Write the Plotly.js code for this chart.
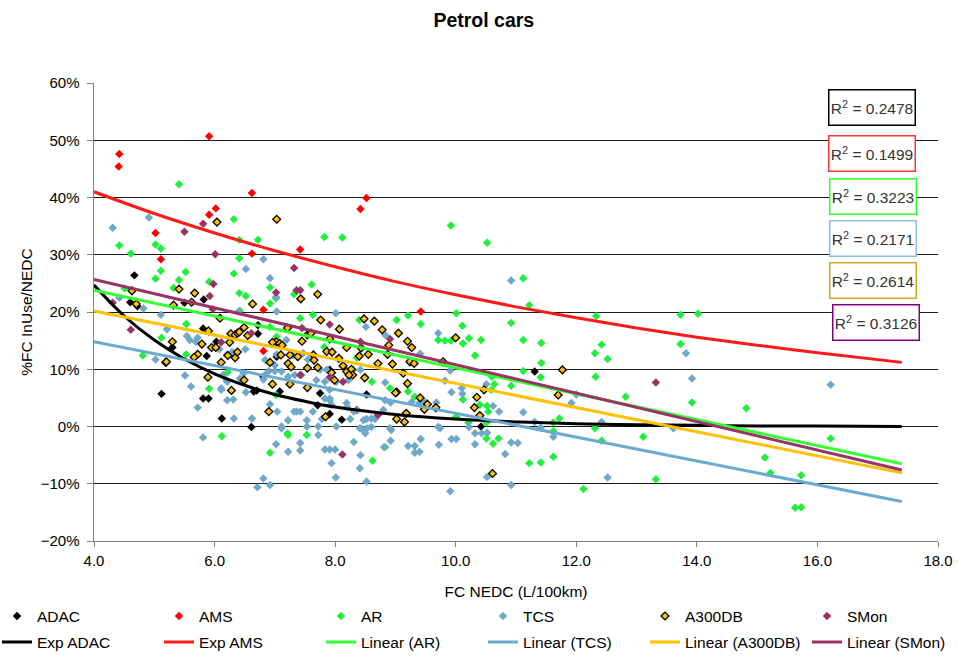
<!DOCTYPE html>
<html>
<head>
<meta charset="utf-8">
<script src="https://cdn.plot.ly/plotly-3.0.1.min.js"></script>
<style>html,body{margin:0;padding:0;background:#fff;}#chart{width:958px;height:659px;}</style>
</head>
<body>
<div id="chart"></div>
<script>
// ---------- data (FC NEDC in L/100km, %FC InUse/NEDC in %) ----------
var adacX = [4.67,4.60,4.72,5.50,5.82,5.81,5.87,6.03,6.72,6.72,5.12,5.81,5.90,6.12,6.61,6.65,6.70,6.81,7.03,5.30,7.08,7.75,7.91,8.11,7.71,8.36,7.91,8.52,10.42,11.31];
var adacY = [26.4,21.7,21.0,21.6,22.2,17.1,12.3,14.8,17.7,16.2,5.7,4.9,4.9,1.4,-0.1,6.1,6.3,8.7,12.2,13.8,6.1,5.8,2.2,1.2,3.7,2.9,9.9,5.6,0.0,9.6];

var amsX = [4.41,4.42,5.91,6.62,6.02,5.91,5.02,5.11,6.62,7.42,6.81,8.52,8.42,6.81,9.42];
var amsY = [45.4,47.6,50.7,40.8,38.1,37.0,33.8,29.2,30.2,30.9,20.4,39.9,38.0,13.2,20.1];

var arX = [5.41,6.32,4.42,4.61,5.02,5.11,5.02,5.11,5.41,5.52,5.32,5.91,6.41,6.72,6.41,6.32,6.41,6.52,6.92,6.92,7.02,7.32,7.61,7.82,8.12,9.92,4.51,7.42,7.63,6.42,
  10.52,11.12,11.22,10.01,10.92,10.11,9.42,9.21,9.02,
  12.33,10.22,10.42,10.12,11.12,11.42,12.42,12.31,12.52,10.32,11.42,11.12,12.32,11.41,10.92,10.60,10.64,10.59,10.12,10.40,10.52,10.54,10.21,10.51,12.82,11.62,11.62,11.72,12.31,12.42,10.51,10.62,10.71,11.62,11.41,11.22,12.12,13.11,
  13.73,14.02,13.73,13.92,14.82,16.22,15.13,15.22,15.73,13.32,15.63,15.73,
  9.71,9.82,9.92,10.01,9.32,8.83,8.62,8.61,8.40,7.82,8.36,8.30,8.91,9.21,7.21,
  5.53,5.12,4.81,5.53,6.22,5.91,7.03,6.12,6.92,7.22,7.53,7.02,6.92];
var arY = [42.3,36.2,31.6,30.2,31.8,31.1,25.8,27.2,25.6,27.0,24.2,25.3,32.6,32.6,29.4,26.7,23.3,22.8,24.3,21.5,22.4,23.1,24.8,33.1,33.0,35.1,24.1,18.9,19.5,20.2,
  32.1,25.9,21.2,19.8,18.1,17.6,17.9,19.4,18.6,
  19.3,15.4,15.1,14.5,15.1,14.6,14.3,12.8,11.8,12.4,11.1,9.7,8.7,8.6,7.1,8.7,7.4,6.4,4.7,3.8,3.6,2.6,0.7,0.7,5.2,0.7,-0.8,1.4,-0.3,-2.5,-2.1,-3.0,-2.1,-5.3,-6.3,-6.4,-10.9,-1.8,
  19.5,19.7,14.4,4.2,3.2,-2.1,-5.4,-8.1,-8.5,-9.2,-14.2,-14.1,
  15.1,15.0,15.0,1.7,5.2,-3.6,-6.0,7.8,18.6,13.9,12.0,9.9,6.7,6.1,-1.2,
  17.9,15.5,12.4,12.6,9.5,6.6,15.7,-1.7,-4.6,-1.5,-1.5,5.5,17.4];

var tcsX = [4.31,4.91,6.81,6.52,6.92,7.02,8.01,5.11,4.82,4.42,10.92,8.51,
  10.10,10.11,10.51,10.62,10.72,11.12,11.31,11.41,11.62,12.42,10.22,10.32,10.43,10.52,10.32,10.01,10.92,11.03,10.82,10.52,10.92,12.52,11.92,12.00,
  13.82,13.92,16.22,13.61,
  9.71,9.41,9.91,9.93,9.82,9.91,9.72,9.42,9.93,9.21,9.32,9.32,9.40,9.71,9.68,9.27,9.40,9.46,8.91,8.92,8.81,8.42,8.41,8.52,8.01,8.31,7.94,8.00,8.41,8.53,8.60,8.47,8.60,8.50,8.25,8.31,8.80,8.92,8.83,
  5.21,5.02,5.51,5.61,5.72,6.21,6.32,6.62,7.11,5.72,6.08,6.21,6.29,6.51,6.14,6.21,6.11,6.48,6.52,6.84,6.90,7.00,6.84,6.81,7.03,6.40,6.92,
  5.81,6.71,6.81,6.92,7.02,7.22,7.42,7.42,7.11,7.22,7.32,7.42,7.53,7.72,7.72,7.63,7.83,7.91,8.02,6.31,6.11,6.20,6.42,7.04,5.54,5.59,5.69,7.19,7.30,7.47,7.55,7.75,7.86,7.83,7.91,
  7.03,8.83,7.00,7.11,7.22,7.33,7.44,7.69,7.83,8.02,7.36,7.53,7.78,8.19,8.37,8.52,8.66,7.91,8.83,8.93,9.74,8.44,
  8.42,8.50,8.22,7.91,7.94,8.20];
var tcsY = [34.7,36.5,29.2,27.5,25.9,22.6,19.8,19.5,20.6,22.5,25.5,17.4,
  6.7,5.7,7.4,3.6,2.6,2.5,0.8,-0.2,-1.8,0.8,-0.1,-1.2,-1.2,-1.1,-3.1,-2.2,-2.8,-2.9,-4.8,-8.8,-10.2,-8.9,4.1,5.6,
  12.8,8.4,7.3,-0.3,
  16.3,12.7,9.8,6.0,8.0,-11.3,-3.2,-2.2,-2.2,-3.4,-3.4,-4.6,-4.4,-0.1,4.2,4.3,4.1,4.6,-0.3,-2.5,-3.6,-5.0,-7.3,-9.6,-8.9,-2.7,-6.4,-4.0,-0.3,-0.3,-0.1,1.1,1.4,-1.2,1.3,2.6,2.9,4.2,7.7,
  17.0,11.7,8.9,7.0,3.3,4.6,1.4,1.4,-0.3,15.5,13.5,12.6,13.0,13.5,9.0,7.8,6.4,9.3,6.0,11.6,9.7,9.7,9.0,8.2,12.6,20.1,3.9,
  -1.9,-10.6,-9.1,-10.2,-3.1,-4.4,-2.9,-4.2,0.0,1.1,2.6,2.6,0.0,-1.5,0.0,2.6,-4.0,-4.0,0.0,4.7,6.7,8.1,8.4,2.6,15.8,15.1,14.8,15.1,12.5,12.8,11.7,9.9,9.9,4.9,4.9,
  20.1,16.0,10.7,9.6,8.7,9.0,9.0,8.1,7.8,7.8,2.6,1.1,1.3,4.1,2.9,1.3,1.3,4.6,4.6,-0.6,-0.3,-0.4,
  9.9,8.7,8.1,6.4,3.8,3.4];

var a3X = [4.63,4.70,5.41,5.67,5.62,5.32,6.63,6.09,6.49,6.27,6.34,6.38,6.41,6.55,5.90,5.79,5.95,6.02,6.25,5.30,5.72,5.66,6.22,6.38,6.34,6.11,5.19,5.89,6.49,6.96,6.28,6.90,6.92,7.02,6.04,7.03,
  7.43,7.71,7.76,8.48,8.65,8.78,9.05,10.00,7.21,7.08,7.12,6.96,7.45,7.54,7.60,7.91,8.19,8.43,8.55,8.87,8.89,9.20,9.27,9.24,9.31,8.95,8.71,7.10,7.25,7.38,7.22,7.27,7.54,7.64,7.65,7.71,7.86,7.95,8.06,8.13,8.19,8.27,8.29,8.23,7.99,8.49,7.25,7.54,9.02,9.20,9.13,9.41,9.53,9.67,9.48,9.18,9.02,9.15,7.84,
  8.07,8.40,9.79,10.47,10.35,10.31,10.40,10.61,11.77,11.70,9.00,5.20,7.94];
var a3Y = [23.7,21.4,24.0,23.3,21.7,21.2,21.4,18.9,17.3,16.2,16.0,16.3,16.5,15.9,16.7,14.4,13.8,13.8,14.7,14.8,12.6,12.1,12.4,13.0,12.0,11.2,11.2,8.6,8.1,7.4,6.3,2.6,11.2,14.8,35.7,36.2,
  22.3,23.1,18.6,18.8,18.4,16.9,16.3,15.5,17.2,14.5,14.2,14.7,14.9,16.0,16.3,15.3,13.8,13.7,12.6,12.6,14.2,14.9,13.8,11.3,11.0,10.9,11.0,12.5,12.5,12.2,11.0,10.4,10.2,12.5,11.6,10.3,13.1,13.0,11.9,10.6,9.6,10.0,9.0,9.0,8.1,8.5,7.4,6.8,6.0,7.5,9.3,5.0,3.9,3.3,3.0,2.3,1.3,0.8,1.7,
  17.0,12.3,11.3,6.4,5.1,3.3,1.9,-8.2,9.9,5.5,5.9,11.3,9.4];

var smonX = [5.81,5.50,6.01,7.32,7.36,7.42,7.02,5.98,5.92,5.97,4.31,4.61,6.61,6.11,7.91,7.45,8.91,8.42,7.42,7.91,8.13,8.71,8.12,13.32];
var smonY = [35.4,34.0,30.1,27.7,23.8,23.8,23.4,24.9,22.8,20.5,21.6,16.9,16.3,14.7,17.8,17.2,15.3,14.8,9.0,8.6,7.8,2.0,-4.9,7.7];

// trend lines
var expAdacX = [4.0,4.5,5.0,5.5,6.0,6.5,7.0,7.5,8.0,9.0,10.0,11.0,12.0,13.0,14.0,15.0,16.0,17.4];
var expAdacY = [24.7,19.3,15.1,11.8,9.2,7.2,5.6,4.4,3.4,2.1,1.3,0.8,0.5,0.3,0.2,0.1,0.1,0.0];
var expAmsX = [4,5,6,7,8,9,10,11,12,13,14,15,16,17.4];
var expAmsY = [41.0,37.2,33.8,30.7,27.9,25.3,23.0,20.9,19.0,17.2,15.6,14.2,12.9,11.2];
var linX = [4.0, 17.4];
var linArY = [23.8, -6.5];
var linTcsY = [14.8, -13.1];
var linA3Y = [20.2, -8.1];
var linSmonY = [25.7, -7.6];

var r2Labels = ['0.2478','0.1499','0.3223','0.2171','0.2614','0.3126'];
var r2Colors = ['#000000','#FF3333','#33FF33','#8DBFDD','#D9A520','#800080'];

// ---------- chart ----------
var FONT = '"Liberation Sans", Arial, sans-serif';
var W = 958, H = 659, ML = 94, MR = 20, MT = 83, MB = 118;
var PW = W - ML - MR, PH = H - MT - MB;
function px2x(p){ return (p - ML) / PW; }
function py2y(p){ return (H - MB - p) / PH; }

function sc(name, x, y, color, lg, extra){
  var m = extra || {symbol:'diamond', size:6.5, color:color, line:{width:0}};
  return {type:'scatter', mode:'markers', name:name, x:x, y:y, marker:m, legend:lg};
}
function ln(name, x, y, color, lg, spline){
  return {type:'scatter', mode:'lines', name:name, x:x, y:y, legend:lg,
          line:{color:color, width:3, shape: spline ? 'spline' : 'linear'}};
}

var traces = [
  sc('ADAC', adacX, adacY, '#000000', 'legend'),
  sc('AMS', amsX, amsY, '#FF0000', 'legend'),
  sc('AR', arX, arY, '#1EF03C', 'legend'),
  sc('TCS', tcsX, tcsY, '#6FA8C8', 'legend2'),
  sc('A300DB', a3X, a3Y, null, 'legend2', {symbol:'diamond', size:6, color:'#FFC000', line:{color:'#000000', width:1.3}}),
  sc('SMon', smonX, smonY, '#993366', 'legend2'),
  ln('Exp ADAC', expAdacX, expAdacY, '#000000', 'legend3', true),
  ln('Exp AMS', expAmsX, expAmsY, '#FF1A1A', 'legend3', true),
  ln('Linear (AR)', linX, linArY, '#33FF33', 'legend3'),
  ln('Linear (TCS)', linX, linTcsY, '#6AAACF', 'legend4'),
  ln('Linear (A300DB)', linX, linA3Y, '#FFC000', 'legend4'),
  ln('Linear (SMon)', linX, linSmonY, '#993366', 'legend4')
];

var boxCenters = [[872,108],[872,153.5],[873,196],[873,238.5],[873,280.5],[876,322]];
var annotations = r2Labels.map(function(v, i){
  return {xref:'paper', yref:'paper', x:px2x(boxCenters[i][0]), y:py2y(boxCenters[i][1]),
    xanchor:'center', yanchor:'middle', showarrow:false,
    text:'R<sup>2</sup> = ' + v, font:{family:FONT, size:15.5, color:'#333333'},
    bgcolor:'#ffffff', bordercolor:r2Colors[i], borderwidth:1.5, borderpad:1,
    width:83, height:32};
});

function legendAt(leftPx, centerPx){
  return {orientation:'h', xref:'paper', yref:'paper', x:px2x(leftPx), y:py2y(centerPx - 16.6),
    xanchor:'left', yanchor:'top', font:{family:FONT, size:15.5, color:'#000000'},
    bgcolor:'rgba(0,0,0,0)', borderwidth:0, entrywidth:117, entrywidthmode:'pixels', itemwidth:30};
}

var layout = {
  width:W, height:H, paper_bgcolor:'#ffffff', plot_bgcolor:'#ffffff',
  margin:{l:ML, r:MR, t:MT, b:MB, pad:0, autoexpand:false},
  font:{family:FONT, size:15.5, color:'#000000'},
  title:{text:'Petrol cars', font:{family:FONT, size:19.5, weight:700, color:'#000000'},
         xref:'container', yref:'container', x:0.505, y:1 - 20/H, xanchor:'center', yanchor:'middle'},
  xaxis:{range:[4,18], dtick:2, tick0:4, tickformat:'.1f', showgrid:false, zeroline:false,
         showline:true, linecolor:'#808080', linewidth:1, ticks:'outside', ticklen:5, tickcolor:'#808080',
         tickfont:{family:FONT, size:15, color:'#000000'}, automargin:false, ticklabelstandoff:1,
         title:{text:'FC NEDC (L/100km)', font:{family:FONT, size:15.5, color:'#000000'}, standoff:18}},
  yaxis:{range:[-20,60], dtick:10, tick0:0, ticksuffix:'%', showgrid:true, gridcolor:'#1a1a1a', gridwidth:1,
         zeroline:false, showline:true, linecolor:'#808080', linewidth:1.5, ticks:'outside', ticklen:6, tickcolor:'#808080',
         tickfont:{family:FONT, size:15, color:'#000000'}, automargin:false, ticklabelstandoff:4,
         title:{text:'%FC InUse/NEDC', font:{family:FONT, size:15.5, color:'#000000'}, standoff:4}},
  showlegend:true,
  legend: legendAt(-3, 616),
  legend2: legendAt(483, 616),
  legend3: legendAt(-3, 642),
  legend4: legendAt(483, 642),
  annotations: annotations,
  hovermode:false
};

Plotly.newPlot('chart', traces, layout, {staticPlot:true, displayModeBar:false});
</script>
</body>
</html>
